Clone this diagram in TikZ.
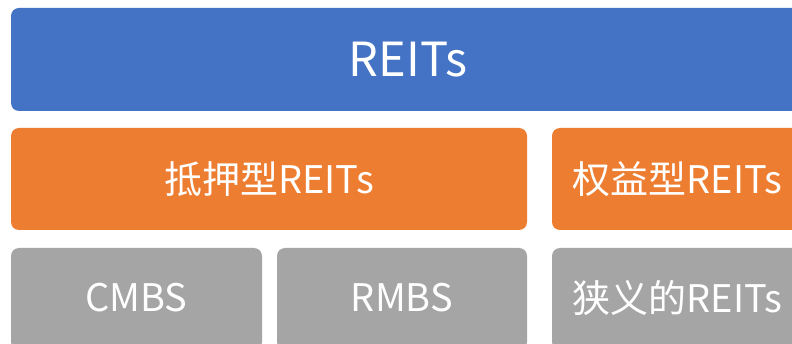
\documentclass[tikz,border=0pt]{standalone}
\usepackage{fontspec}
\setmainfont{Noto Sans CJK SC}
\definecolor{cblue}{HTML}{4472C4}
\definecolor{corange}{HTML}{ED7D31}
\definecolor{cgray}{HTML}{A5A5A5}
\tikzset{
  lbl/.style={text=white, inner sep=0pt, font=\fontsize{38}{46}\selectfont},
}
\begin{document}
\begin{tikzpicture}[x=1pt,y=-1pt]
\useasboundingbox (0,0) rectangle (792,344);
\clip (0,0) rectangle (792,344);
\fill[white] (0,0) rectangle (792,344);
% top
\fill[cblue, rounded corners=8pt] (11,8) rectangle (805,111);
\node[lbl, font=\fontsize{47}{56}\selectfont] (top) at (408,59.5) {REITs};
% second row
\fill[corange, rounded corners=8pt] (11,128) rectangle (527,230);
\node[lbl] (mort) at (269,179) {抵押型REITs};
\fill[corange, rounded corners=8pt] (552,128) rectangle (803,230);
\node[lbl] (eq) at (677.5,179) {权益型REITs};
% third row
\fill[cgray, rounded corners=8pt] (11,248) rectangle (262,350);
\node[lbl] (cmbs) at (136.5,298) {CMBS};
\fill[cgray, rounded corners=8pt] (277,248) rectangle (527,350);
\node[lbl] (rmbs) at (402,298) {RMBS};
\fill[cgray, rounded corners=8pt] (552,248) rectangle (803,350);
\node[lbl] (narrow) at (677.5,298) {狭义的REITs};
\end{tikzpicture}
\end{document}
